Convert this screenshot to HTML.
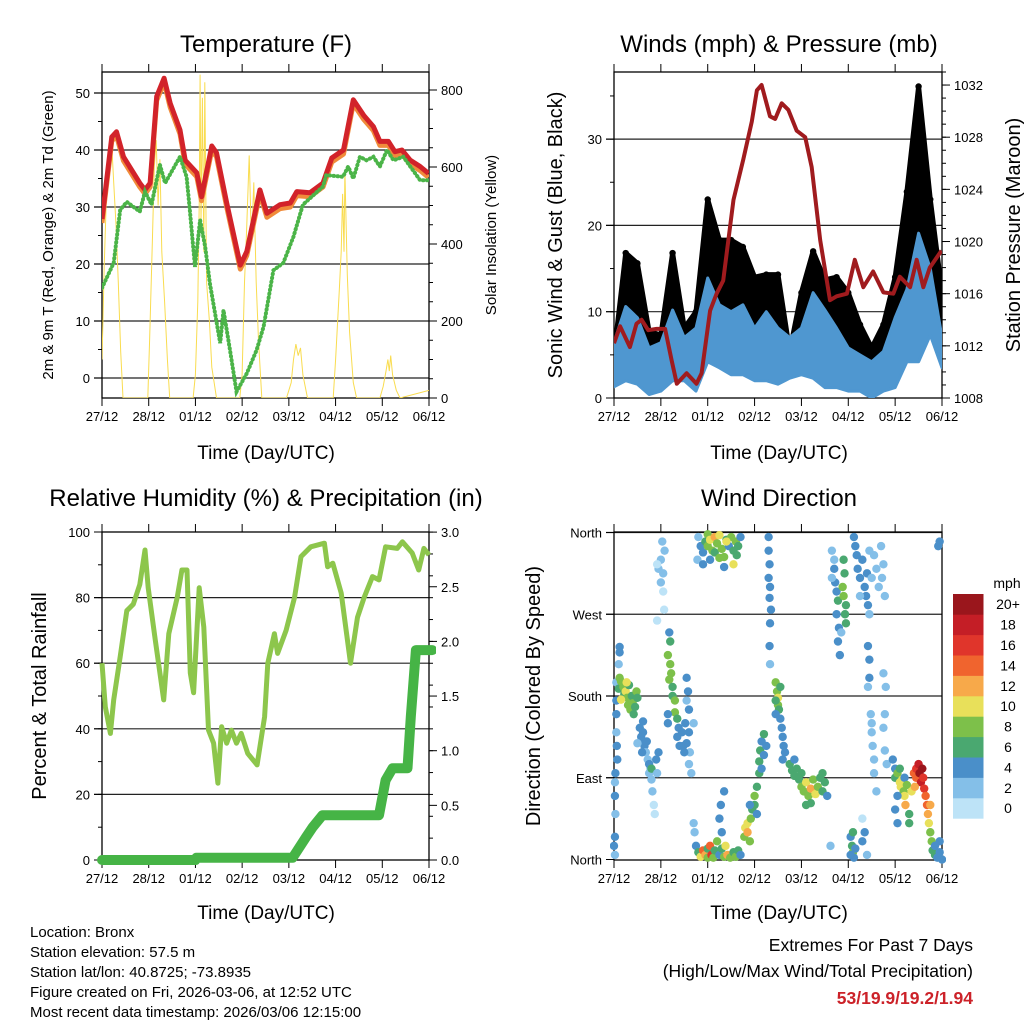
<!DOCTYPE html>
<html><head><meta charset="utf-8">
<style>
html,body{margin:0;padding:0;background:#fff;}
svg{display:block;font-family:"Liberation Sans",sans-serif;}
</style></head>
<body>
<svg id="fig" width="1024" height="1024" viewBox="0 0 1024 1024" xmlns="http://www.w3.org/2000/svg">
<defs>
<clipPath id="c1"><rect x="102" y="72" width="327" height="326"/></clipPath>
<clipPath id="c2"><rect x="614" y="72" width="328" height="326"/></clipPath>
<clipPath id="c3"><rect x="96" y="526" width="340" height="340"/></clipPath>
<clipPath id="c4"><rect x="610" y="528" width="336" height="336"/></clipPath>
</defs>
<g font-size="24" text-anchor="middle" fill="#000">
<text x="266" y="52">Temperature (F)</text>
<text x="779" y="52">Winds (mph) &amp; Pressure (mb)</text>
<text x="266" y="506">Relative Humidity (%) &amp; Precipitation (in)</text>
<text x="779" y="506">Wind Direction</text>
</g>
<g font-size="19" text-anchor="middle">
<text x="266" y="459">Time (Day/UTC)</text>
<text x="779" y="459">Time (Day/UTC)</text>
<text x="266" y="919">Time (Day/UTC)</text>
<text x="779" y="919">Time (Day/UTC)</text>
</g>
<g text-anchor="middle">
<text transform="translate(53,235) rotate(-90)" font-size="15">2m &amp; 9m T (Red, Orange) &amp; 2m Td (Green)</text>
<text transform="translate(496,235) rotate(-90)" font-size="15">Solar Insolation (Yellow)</text>
<text transform="translate(562,235) rotate(-90)" font-size="20">Sonic Wind &amp; Gust (Blue, Black)</text>
<text transform="translate(1020,235) rotate(-90)" font-size="20">Station Pressure (Maroon)</text>
<text transform="translate(46,696) rotate(-90)" font-size="20">Percent &amp; Total Rainfall</text>
<text transform="translate(540,696) rotate(-90)" font-size="20">Direction (Colored By Speed)</text>
</g>
<g font-size="15">
<text x="30" y="937">Location: Bronx</text>
<text x="30" y="957">Station elevation: 57.5 m</text>
<text x="30" y="977">Station lat/lon: 40.8725; -73.8935</text>
<text x="30" y="997">Figure created on Fri, 2026-03-06, at 12:52 UTC</text>
<text x="30" y="1017">Most recent data timestamp: 2026/03/06 12:15:00</text>
</g>
<g font-size="17.5" text-anchor="end">
<text x="973" y="951">Extremes For Past 7 Days</text>
<text x="973" y="977">(High/Low/Max Wind/Total Precipitation)</text>
<text x="973" y="1004" fill="#cc2229" font-weight="bold">53/19.9/19.2/1.94</text>
</g>
<g id="plots"></g>
</svg>
<script>
// ---------- DATA ----------
const dayLabels = ["27/12","28/12","01/12","02/12","03/12","04/12","05/12","06/12"];
const tempT = [0,0.21,0.31,0.46,0.81,0.92,1.03,1.17,1.33,1.46,1.67,1.78,2.03,2.13,2.35,2.45,2.67,2.96,3.1,3.38,3.53,3.81,4.03,4.17,4.45,4.73,4.92,5.17,5.38,5.6,5.81,5.95,6.13,6.27,6.42,6.6,6.81,6.99];
const temp2m = [27.9,42.3,43.2,38.8,34.2,33,34.2,49.4,52.6,48.2,43.5,38.2,36,31.8,40.7,39.5,30.7,19.8,22.2,33,28.9,30.4,30.7,32.7,32.5,34.2,38.6,40,48.8,46.1,44.1,41.5,41.5,39.7,40,38.2,37.1,35.9];
const dewT = [0,0.25,0.39,0.53,0.81,0.92,1.06,1.24,1.35,1.67,1.81,1.88,1.99,2.1,2.21,2.31,2.53,2.6,2.74,2.88,3.1,3.31,3.46,3.67,3.88,4.1,4.3,4.73,4.8,5.16,5.27,5.38,5.52,5.66,5.81,5.95,6.1,6.24,6.45,6.81,6.99];
const dew2m = [15.8,20.2,29.5,30.9,29.2,32.7,30.4,37.4,34.2,38.8,35.3,29.5,19.5,27.7,23,16.6,6.1,11.9,4.9,-2.4,0.8,4.9,9,18.9,20.2,24.8,30.4,33.6,35.6,35.3,37.1,35,38.8,38.2,38.8,37.1,40,38.2,38.8,34.7,34.7];
const solarT = [0,0.05,0.1,0.15,0.2,0.25,0.3,0.35,0.4,0.45, 0.98,1.02,1.08,1.12,1.16,1.2,1.24,1.28,1.34,1.4,1.45, 1.95,2.0,2.05,2.08,2.1,2.12,2.15,2.18,2.2,2.24,2.3,2.35,2.45, 2.95,3.0,3.05,3.1,3.15,3.2,3.25,3.3,3.35,3.42, 3.95,4.05,4.1,4.15,4.2,4.25,4.3,4.4, 4.95,5.0,5.08,5.12,5.15,5.18,5.2,5.25,5.3,5.38,5.45, 5.95,6.02,6.08,6.12,6.15,6.18,6.22,6.3,6.38,7.0];
const solarV = [100,350,550,620,680,560,450,300,120,0, 0,150,420,600,670,500,620,380,250,100,0, 0,60,250,500,840,450,780,380,820,300,200,80,0, 0,60,300,450,630,400,560,300,150,0, 0,40,100,140,110,130,60,0, 0,100,280,380,530,380,590,320,170,40,0, 0,30,70,100,70,110,60,20,0,20];
const windT = [0,0.25,0.5,0.75,1,1.25,1.5,1.75,2,2.25,2.5,2.75,3,3.25,3.5,3.75,4,4.25,4.5,4.75,5,5.25,5.5,5.75,6,6.25,6.5,6.75,7];
const windLo = [1.3,2,1.6,0.4,0.8,2,2,0.8,4.2,3.5,2.7,2.7,2,2,1.6,2.3,2.7,2.3,1.2,1.2,0.8,0.8,0,0.8,1.2,4.2,4.2,7.3,3.5];
const windHi = [6.4,10.6,9.3,5.8,6.4,10.2,7,8.1,13.9,10.8,10,10.8,8.1,10,8.1,7,8.1,12.2,10.2,8.1,5.8,5,4.2,5.4,9.3,12.6,19.1,15,7];
const gustMax = [5,16.8,15.6,7.7,7.3,16.8,8.1,10,23,18.3,18.3,17.5,14,14.3,14.3,5.4,12.2,17,13.7,14,12.2,8.5,5.8,8.5,14,23.9,36.1,23,12.2];
const presT = [0,0.13,0.34,0.48,0.59,0.73,0.91,1.09,1.23,1.34,1.55,1.76,1.87,2.05,2.19,2.33,2.55,2.76,2.94,3.05,3.15,3.33,3.44,3.58,3.72,3.9,4.08,4.22,4.4,4.61,4.75,4.97,5.14,5.32,5.53,5.75,5.96,6.1,6.32,6.46,6.6,6.74,6.99];
const presV = [1012.2,1013.5,1011.9,1013.7,1014,1013.2,1013.3,1013.3,1010.9,1009.1,1009.9,1009.1,1009.9,1014.7,1016,1017,1023.2,1026.3,1029.2,1031.6,1032,1029.6,1029.4,1030.6,1030.1,1028.5,1028,1025.7,1020.1,1015.5,1015.8,1016,1018.6,1016.5,1017.7,1016.1,1016,1017.3,1016.5,1018.6,1016.5,1018,1019.3];
const rhT = [0,0.07,0.18,0.25,0.39,0.53,0.67,0.81,0.92,0.99,1.14,1.32,1.43,1.61,1.71,1.82,1.89,1.96,2.08,2.18,2.28,2.39,2.48,2.56,2.67,2.77,2.88,2.98,3.12,3.32,3.48,3.55,3.69,3.76,3.94,4.12,4.26,4.47,4.76,4.83,4.94,5.12,5.32,5.47,5.61,5.79,5.93,6.07,6.32,6.43,6.64,6.78,6.89,7.0];
const rhV = [60,46.7,38.6,48.8,62,76,78,84,94.5,83,67,48.8,69,80,88.4,88.4,57,51,83,71,39.6,35.6,23.4,40.6,35.6,39.6,35.6,38.6,32.5,29,43.7,60,69,63,70,80,92.5,95.5,96.6,89.4,90.5,81.4,60,74,80,86.4,85.4,95.5,95,97,93.6,88.4,95,93];
const precipT = [0,2.0,2.02,4.08,4.37,4.51,4.72,5.93,6.07,6.22,6.54,6.61,6.72,7.07];
const precipV = [0,0,0.02,0.02,0.21,0.3,0.41,0.41,0.73,0.84,0.84,1.31,1.92,1.92];
const speedLabels = ["0","2","4","6","8","10","12","14","16","18","20+"];
const speedColors = ['#bde3f7','#84bfe8','#4a8fc9','#4aa870','#7dc04a','#e8e05a','#f7a94a','#f0642e','#e0352b','#c41e26','#9a161c'];
// wind observations: [time (days), direction (deg), speed (mph)]
const windObs = [
[0.05,195,3],[0.05,175,4],[0.1,188,7],[0.12,200,8],[0.15,196,9],[0.2,190,8],[0.22,182,7],[0.25,185,10],[0.28,178,9],[0.3,170,8],[0.32,192,7],[0.35,165,8],[0.38,180,6],[0.4,172,9],[0.42,160,7],[0.45,168,6],[0.48,185,8],[0.5,178,7],[0.15,176,10],[0.27,195,10],
[0.12,234,4],[0.12,228,4],[0.1,215,3],[0.05,160,4],[0.05,140,3],[0.06,125,4],[0.07,110,4],[0.03,95,4],[0.02,85,3],[0.02,70,4],[0.03,50,3],[0.02,25,4],[0.0,15,4],[0.02,5,3],
[0.55,145,4],[0.58,135,4],[0.6,130,4],[0.62,140,4],[0.65,125,4],[0.68,118,3],[0.7,130,4],[0.72,110,2],[0.75,95,2],[0.78,100,3],[0.8,88,3],[0.82,75,2],[0.85,60,1],[0.87,50,1],[0.5,128,3],[0.6,118,4],[0.75,105,4],[0.8,100,6],[0.9,110,4],[0.95,118,4],[0.92,95,3],[0.62,152,4],
[0.95,320,2],[1.0,330,2],[1.05,315,2],[1.0,305,2],[1.05,295,1],[1.08,340,2],[1.03,350,2],[0.92,325,1],[1.07,275,1],[0.92,263,1],
[1.18,250,4],[1.2,240,6],[1.15,225,8],[1.2,215,8],[1.22,205,9],[1.18,198,8],[1.25,190,7],[1.25,180,6],[1.3,175,8],[1.3,162,8],[1.35,155,6],[1.38,145,5],[1.35,135,4],[1.4,125,4],[1.15,160,4],[1.15,150,4],
[1.55,200,4],[1.58,185,4],[1.55,175,3],[1.6,165,4],[1.52,150,4],[1.6,140,4],[1.55,128,4],[1.62,118,3],[1.6,105,3],[1.65,95,2],[1.45,140,4],[1.48,125,4],[1.5,118,4],[1.7,150,2],
[1.8,355,2],[1.85,345,4],[1.9,338,4],[1.95,350,6],[2.0,358,8],[2.0,345,8],[2.05,352,10],[2.1,340,8],[2.15,355,12],[2.15,338,6],[2.2,348,8],[2.25,357,10],[2.3,342,8],[2.35,333,8],[2.4,352,6],[2.45,345,4],[2.5,355,8],[2.55,340,6],[2.55,325,10],[2.6,350,8],[2.62,335,6],[2.65,345,6],[2.7,355,4],[1.78,330,2],[1.9,325,4],[2.05,330,4],[2.25,332,8],[2.35,322,4],[2.4,350,10],
[1.75,15,4],[1.8,8,6],[1.85,3,10],[1.9,10,14],[1.95,5,12],[2.0,2,8],[2.0,12,6],[2.05,15,14],[2.08,5,16],[2.12,2,8],[2.15,10,6],[2.2,20,8],[2.25,5,4],[2.3,12,6],[2.35,3,8],[2.38,15,10],[2.42,5,12],[2.48,2,8],[2.55,8,6],[2.6,3,8],[2.65,10,6],[2.7,5,4],[1.7,40,2],[1.72,30,2],[2.25,45,4],[2.3,30,4],[2.28,60,4],[2.35,75,4],
[2.78,25,8],[2.8,35,10],[2.85,40,10],[2.85,30,12],[2.9,20,8],[2.92,45,8],[2.95,55,6],[3.0,60,6],[3.0,70,8],[3.05,80,6],[3.1,95,6],[3.1,108,6],[3.12,120,6],[3.15,130,4],[3.2,138,6],[2.9,60,4],[3.05,50,4],[3.15,100,4],[3.2,115,4],[3.25,125,4],
[3.3,355,4],[3.3,340,4],[3.32,325,4],[3.3,310,4],[3.33,300,4],[3.32,288,4],[3.35,275,4],[3.33,260,4],[3.32,235,4],[3.33,215,2],
[3.45,195,8],[3.48,185,8],[3.5,178,10],[3.5,170,8],[3.52,165,6],[3.45,175,6],[3.55,190,6],[3.45,160,4],[3.55,155,4],[3.58,145,4],[3.6,135,4],[3.62,125,4],[3.65,118,4],[3.6,110,4],
[3.75,105,6],[3.8,98,6],[3.85,92,6],[3.9,100,6],[3.95,88,6],[4.0,95,6],[4.0,80,8],[4.05,75,8],[4.1,85,10],[4.15,70,8],[4.2,78,12],[4.25,88,8],[4.3,72,10],[4.35,80,8],[4.4,90,6],[4.45,75,6],[4.5,85,6],[4.55,70,4],[4.2,62,6],[4.1,60,6],[3.85,110,4],[4.45,95,6],
[5.05,25,4],[5.08,15,6],[5.1,8,8],[5.1,30,6],[5.12,2,4],[5.15,12,4],[5.05,5,4],[4.62,15,2],[5.3,45,1],[5.3,20,4],[5.35,30,4],[5.4,5,2],
[4.65,340,3],[4.7,320,4],[4.72,305,4],[4.75,295,4],[4.78,285,6],[4.75,270,4],[4.8,255,4],[4.78,240,4],[4.82,225,4],[4.7,330,2],[4.65,310,2],[4.85,250,2],
[4.9,330,6],[4.92,315,6],[4.88,300,8],[4.9,290,8],[4.95,280,6],[4.93,270,6],[4.95,260,6],
[5.12,355,4],[5.15,345,4],[5.18,335,4],[5.2,320,4],[5.25,310,4],[5.3,330,4],[5.35,300,4],[5.4,315,4],[5.38,290,4],[5.42,280,4],[5.45,270,3],[5.5,310,3],[5.55,335,3],[5.6,320,2],[5.65,300,2],[5.7,345,2],[5.75,325,2],[5.72,310,2],[5.78,290,3],[5.25,290,2],[5.45,340,2],
[5.42,235,4],[5.45,220,4],[5.45,200,4],[5.42,190,2],[5.48,160,2],[5.5,150,3],[5.5,140,3],[5.52,125,3],[5.55,110,2],[5.55,95,2],[5.6,75,2],[5.75,205,2],[5.8,190,2],[5.78,160,3],[5.75,145,3],[5.78,120,2],[5.82,105,2],
[5.95,110,4],[6.0,100,4],[6.0,90,6],[6.05,95,8],[6.1,85,10],[6.12,80,10],[6.15,88,10],[6.18,75,8],[6.2,70,10],[6.22,60,12],[6.1,100,6],[6.05,70,4],[6.2,90,4],[6.25,82,8],[6.3,50,6],[6.3,40,6],[6.0,55,4],[6.05,40,4],
[6.4,95,14],[6.45,100,16],[6.45,90,14],[6.5,105,18],[6.52,95,20],[6.55,85,18],[6.58,100,20],[6.6,90,16],[6.62,78,16],[6.65,70,14],[6.68,60,14],[6.7,50,12],[6.72,40,10],[6.75,30,8],[6.78,20,8],[6.8,10,6],[6.85,5,6],[6.9,2,4],[6.85,15,4],[6.95,8,4],[6.95,20,4],[7.0,0,4],[6.35,75,10],[6.42,80,12],[6.75,60,12],
[6.92,345,4],[6.95,350,4]
];

// ---------- RENDER ----------
const NS = "http://www.w3.org/2000/svg";
const root = document.getElementById('plots');
function mk(tag, attrs, parent) {
  const e = document.createElementNS(NS, tag);
  for (const k in attrs) e.setAttribute(k, attrs[k]);
  (parent || root).appendChild(e);
  return e;
}
function xScale(L, R) { return t => L + t * (R - L) / 7; }
function pts(xs, ys, T, V) { return T.map((t, i) => xs(t).toFixed(1) + ',' + ys(V[i]).toFixed(1)).join(' '); }

function frame(P, name) {
  const g = mk('g', {});
  
  
  const xs = xScale(P.L, P.R);
  P.grid.forEach(v => {
    const y = P.yl(v);
    const ln = mk('line', {x1: P.L - 8, x2: P.R, y1: y, y2: y, stroke: '#222', 'stroke-width': 1.2}, g);
    
    
  });
  for (let i = 0; i <= 7; i++) {
    const x = xs(i);
    mk('line', {x1: x, x2: x, y1: P.B, y2: P.B + 8, stroke: '#000', 'stroke-width': 1}, g);
    mk('line', {x1: x, x2: x, y1: P.T, y2: P.T - 8, stroke: '#000', 'stroke-width': 1}, g);
    const tl = mk('text', {x: x, y: P.B + 23, 'font-size': 13, 'text-anchor': 'middle'}, g);
    tl.textContent = dayLabels[i];
    
    
  }
  P.lMinor.forEach(v => mk('line', {x1: P.L - 4, x2: P.L, y1: P.yl(v), y2: P.yl(v), stroke: '#000'}, g));
  P.lMajor.forEach((v, i) => {
    const y = P.yl(v);
    mk('line', {x1: P.L - 8, x2: P.L, y1: y, y2: y, stroke: '#000'}, g);
    const tl = mk('text', {x: P.L - 12, y: y + 5, 'font-size': 13, 'text-anchor': 'end'}, g);
    tl.textContent = P.lLabels[i];
    
    
  });
  if (P.yr) {
    P.rMinor.forEach(v => mk('line', {x1: P.R, x2: P.R + 4, y1: P.yr(v), y2: P.yr(v), stroke: '#000'}, g));
    P.rMajor.forEach((v, i) => {
      const y = P.yr(v);
      mk('line', {x1: P.R, x2: P.R + 8, y1: y, y2: y, stroke: '#000'}, g);
      const tl = mk('text', {x: P.R + 12, y: y + 5, 'font-size': 13}, g);
      tl.textContent = P.rLabels[i];
      
      
    });
  }
  const box = mk('rect', {x: P.L, y: P.T, width: P.R - P.L, height: P.B - P.T, fill: 'none', stroke: '#000', 'stroke-width': 1.3}, g);
  
  
  return xs;
}
function range(a, b, s) { const r = []; for (let v = a; v <= b + 1e-9; v += s) r.push(+v.toFixed(4)); return r; }

// Panel 1: temperature
const yT = v => 378 - v * 5.7, ySol = v => 398 - v * 0.385;
const P1 = {L: 102, R: 429, T: 72, B: 398, yl: yT, yr: ySol, grid: [0,10,20,30,40,50],
  lMajor: [0,10,20,30,40,50], lLabels: ['0','10','20','30','40','50'], lMinor: range(0, 50, 5),
  rMajor: [0,200,400,600,800], rLabels: ['0','200','400','600','800'], rMinor: range(0, 800, 50)};
const x1s = frame(P1, 'temperature');
const g1 = mk('g', {'clip-path': 'url(#c1)'});
let el;
el = mk('polyline', {points: pts(x1s, ySol, solarT, solarV), fill: 'none', stroke: '#f9dc4f', 'stroke-width': 1}, g1);


el = mk('polyline', {points: pts(x1s, yT, tempT, temp2m.map(v => v - 0.7)), fill: 'none', stroke: '#f08b3a', 'stroke-width': 5, 'stroke-linejoin': 'round'}, g1);


el = mk('polyline', {points: pts(x1s, yT, tempT, temp2m), fill: 'none', stroke: '#d2232a', 'stroke-width': 5, 'stroke-linejoin': 'round'}, g1);


el = mk('polyline', {points: pts(x1s, yT, dewT, dew2m), fill: 'none', stroke: '#4bb448', 'stroke-width': 4, 'stroke-linecap': 'round', 'stroke-dasharray': '0.5 3.5'}, g1);



// Panel 2: winds & pressure
const yW = v => 398 - v * 8.63, yP = p => 398 - (p - 1008) * 13.04;
const P2 = {L: 614, R: 942, T: 72, B: 398, yl: yW, yr: yP, grid: [10,20,30],
  lMajor: [0,10,20,30], lLabels: ['0','10','20','30'], lMinor: range(0, 35, 5),
  rMajor: [1008,1012,1016,1020,1024,1028,1032], rLabels: ['1008','1012','1016','1020','1024','1028','1032'], rMinor: range(1008, 1033, 1)};
const x2s = frame(P2, 'winds');
const g2 = mk('g', {'clip-path': 'url(#c2)'});
const gustPoly = windT.map((t, i) => x2s(t).toFixed(1) + ',' + yW(gustMax[i]).toFixed(1)).concat(windT.slice().reverse().map((t, j) => x2s(t).toFixed(1) + ',' + yW(windHi[windT.length - 1 - j] - 1).toFixed(1))).join(' ');
el = mk('polygon', {points: gustPoly, fill: '#000', stroke: '#000', 'stroke-width': 5, 'stroke-linejoin': 'round'}, g2);


windT.forEach((t, i) => {
  const c = mk('circle', {cx: x2s(t), cy: yW(gustMax[i]), r: 3.2, fill: '#000'}, g2);
  
  
});
const windPoly = windT.map((t, i) => x2s(t).toFixed(1) + ',' + yW(windHi[i]).toFixed(1)).concat(windT.slice().reverse().map((t, j) => x2s(t).toFixed(1) + ',' + yW(windLo[windT.length - 1 - j]).toFixed(1))).join(' ');
el = mk('polygon', {points: windPoly, fill: '#4f97d0', stroke: '#4f97d0', 'stroke-width': 3, 'stroke-linejoin': 'round'}, g2);


el = mk('polyline', {points: pts(x2s, yP, presT, presV), fill: 'none', stroke: '#a01b1e', 'stroke-width': 4, 'stroke-linejoin': 'round'}, g2);



// Panel 3: RH & precip
const yRH = v => 860 - v * 3.28, yPr = v => 860 - v * 109.3;
const P3 = {L: 102, R: 429, T: 532, B: 860, yl: yRH, yr: yPr, grid: [20,40,60,80],
  lMajor: [0,20,40,60,80,100], lLabels: ['0','20','40','60','80','100'], lMinor: range(0, 100, 10),
  rMajor: [0,0.5,1,1.5,2,2.5,3], rLabels: ['0.0','0.5','1.0','1.5','2.0','2.5','3.0'], rMinor: range(0, 3, 0.2)};
const x3s = frame(P3, 'humidity');
const g3 = mk('g', {'clip-path': 'url(#c3)'});
el = mk('polyline', {points: pts(x3s, yRH, rhT, rhV), fill: 'none', stroke: '#8dc64c', 'stroke-width': 5, 'stroke-linejoin': 'round'}, g3);


el = mk('polyline', {points: pts(x3s, yPr, precipT, precipV), fill: 'none', stroke: '#46b446', 'stroke-width': 10, 'stroke-linejoin': 'round', 'stroke-linecap': 'round'}, g3);



// Panel 4: wind direction
const yD = d => 859.5 - d * 327 / 360;
const P4 = {L: 614, R: 942, T: 532, B: 860, yl: yD, grid: [90,180,270,360],
  lMajor: [0,90,180,270,360], lLabels: ['North','East','South','West','North'], lMinor: []};
const x4s = frame(P4, 'wind-direction');
const g4 = mk('g', {'clip-path': 'url(#c4)'});
windObs.forEach(o => {
  const ci = Math.min(10, Math.floor(o[2] / 2));
  const c = mk('circle', {cx: x4s(o[0]), cy: yD(o[1]), r: 4.2, fill: speedColors[ci]}, g4);
  
  
});
// colorbar
const cb = mk('g', {});


const cbTop = 594, cbH = 20.4;
el = mk('text', {x: 1007, y: 588, 'font-size': 14, 'text-anchor': 'middle'}, cb);
el.textContent = 'mph';


speedColors.forEach((col, i) => {
  const y = cbTop + (10 - i) * cbH;
  const r = mk('rect', {x: 953, y: y, width: 30.5, height: cbH + 0.3, fill: col}, cb);
  
  
  const t = mk('text', {x: 1008, y: y + cbH / 2 + 5, 'font-size': 14, 'text-anchor': 'middle'}, cb);
  t.textContent = speedLabels[i];
  
  
});
</script>
</body></html>
